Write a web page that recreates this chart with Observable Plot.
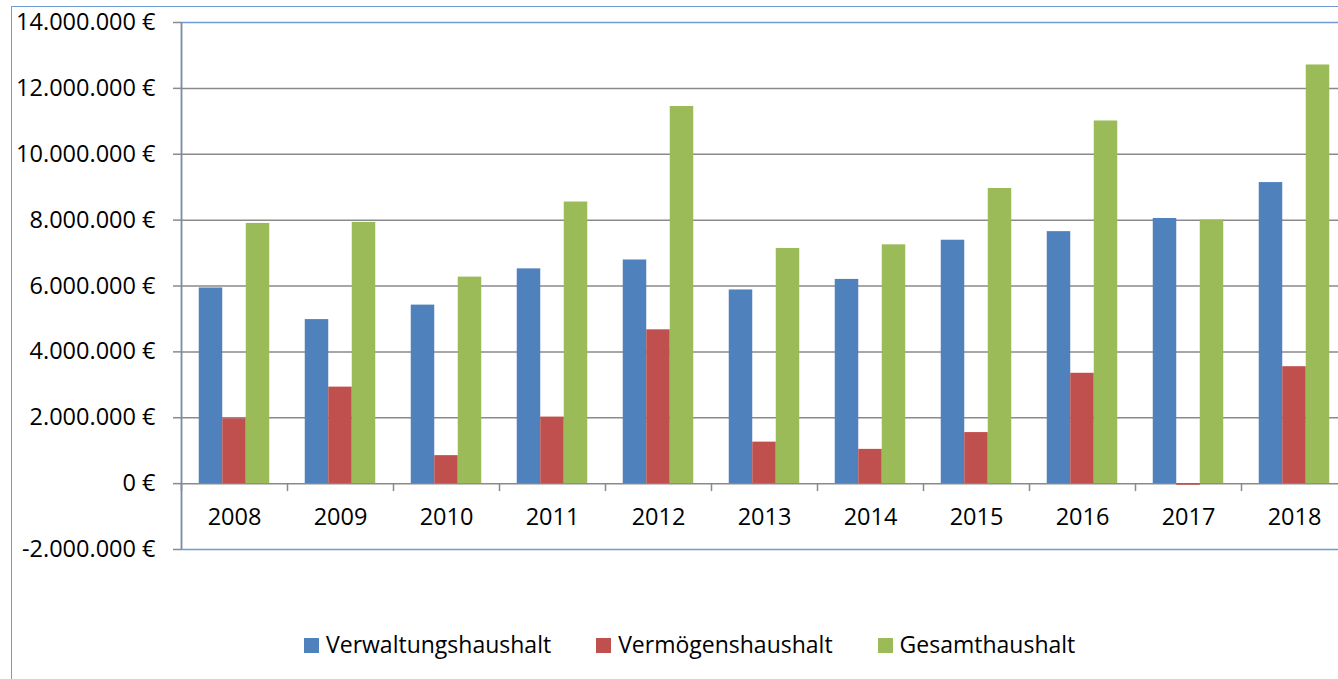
<!DOCTYPE html>
<html>
<head>
<meta charset="utf-8">
<script src="https://cdn.jsdelivr.net/npm/d3@7"></script>
<script src="https://cdn.jsdelivr.net/npm/@observablehq/plot@0.6"></script>
<style>
  html, body { margin: 0; padding: 0; overflow: hidden; background: white; width: 1338px; height: 679px; }
  #chart { position: absolute; left: 0; top: 0; }
  #outer { position: absolute; left: 11px; top: 6px; width: 2000px; height: 2000px;
           border-left: 1.5px solid #6f9bd5; border-top: 1.5px solid #6f9bd5; pointer-events: none; }
  #legend { position: absolute; left: 304px; top: 628px; display: flex; align-items: center;
            font-family: "Open Sans", sans-serif; font-size: 23px; color: #000; }
  .item { display: flex; align-items: center; margin-right: 45px; }
  .sw { width: 15px; height: 15px; margin-right: 7px; margin-top: 2px; }
</style>
</head>
<body>
<div id="chart"></div>
<div id="outer"></div>
<div id="legend"></div>
<script>
const years = ["2008","2009","2010","2011","2012","2013","2014","2015","2016","2017","2018"];
const seriesNames = ["Verwaltungshaushalt", "Vermögenshaushalt", "Gesamthaushalt"];
const seriesColors = ["#4F81BD", "#C0504D", "#9BBB59"];
const verwaltung = [5940000, 4980000, 5420000, 6520000, 6790000, 5880000, 6200000, 7390000, 7650000, 8050000, 9140000];
const vermoegen  = [1970000, 2930000, 850000, 2020000, 4670000, 1260000, 1040000, 1550000, 3350000, -50000, 3550000];
const gesamt     = [7900000, 7930000, 6270000, 8550000, 11450000, 7140000, 7250000, 8960000, 11010000, 8000000, 12710000];
const yTicks = [-2000000, 0, 2000000, 4000000, 6000000, 8000000, 10000000, 12000000, 14000000];
const yDomain = [-2000000, 14000000];

const series = [verwaltung, vermoegen, gesamt];
const tables = series.map((vals, k) => years.map((y, i) => ({year: y, value: vals[i], series: seriesNames[k]})));

const width = 1350, height = 600, marginLeft = 181, marginRight = 3, marginTop = 22, marginBottom = 51;
const step = (width - marginLeft - marginRight) / years.length;
const groupPad = 17.75, barW = 23.5;
const innerH = height - marginTop - marginBottom;
const zeroDy = -innerH * (0 - yDomain[0]) / (yDomain[1] - yDomain[0]);

const gray = "#8a8a8a", blue = "#6f9bd5";
const locale = d3.formatLocale({decimal: ",", thousands: ".", grouping: [3], currency: ["", " €"], minus: "-"});
const fmt = locale.format("$,.0f");

const bars = tables.map((t, k) => Plot.barY(t, {
  x: "year", y: "value", fill: seriesColors[k],
  insetLeft: groupPad + k * barW,
  insetRight: step - groupPad - (k + 1) * barW
}));

const chart = Plot.plot({
  width, height, marginLeft, marginRight, marginTop, marginBottom,
  style: {fontFamily: "'Open Sans', sans-serif", fontSize: "23.5px", background: "transparent", maxWidth: "none", color: "#000"},
  x: {type: "band", domain: years, padding: 0, label: null},
  y: {domain: yDomain, label: null},
  marks: [
    Plot.frame({stroke: blue, strokeWidth: 1.5}),
    Plot.ruleY(yTicks.filter(d => d > yDomain[0] && d < yDomain[1]), {stroke: gray, strokeWidth: 1.5}),
    ...bars,
    Plot.ruleX([years[0]], {dx: -step / 2, stroke: gray, strokeWidth: 1.5}),
    Plot.axisY({ticks: yTicks, tickFormat: fmt, tickSize: 8, tickPadding: 18, stroke: gray, strokeWidth: 1.5, fill: "#000"}),
    Plot.axisX({tickSize: 8, tickFormat: () => "", dx: -step / 2, dy: zeroDy, stroke: gray, strokeWidth: 1.5}),
    Plot.axisX({tickSize: 0, tickPadding: 25, dy: zeroDy, fill: "#000"})
  ]
});
document.getElementById("chart").appendChild(chart);

const legend = document.getElementById("legend");
seriesNames.forEach((name, k) => {
  const item = document.createElement("div");
  item.className = "item";
  const sw = document.createElement("div");
  sw.className = "sw";
  sw.style.background = seriesColors[k];
  const label = document.createElement("span");
  label.textContent = name;
  item.appendChild(sw);
  item.appendChild(label);
  legend.appendChild(item);
});
</script>
</body>
</html>
